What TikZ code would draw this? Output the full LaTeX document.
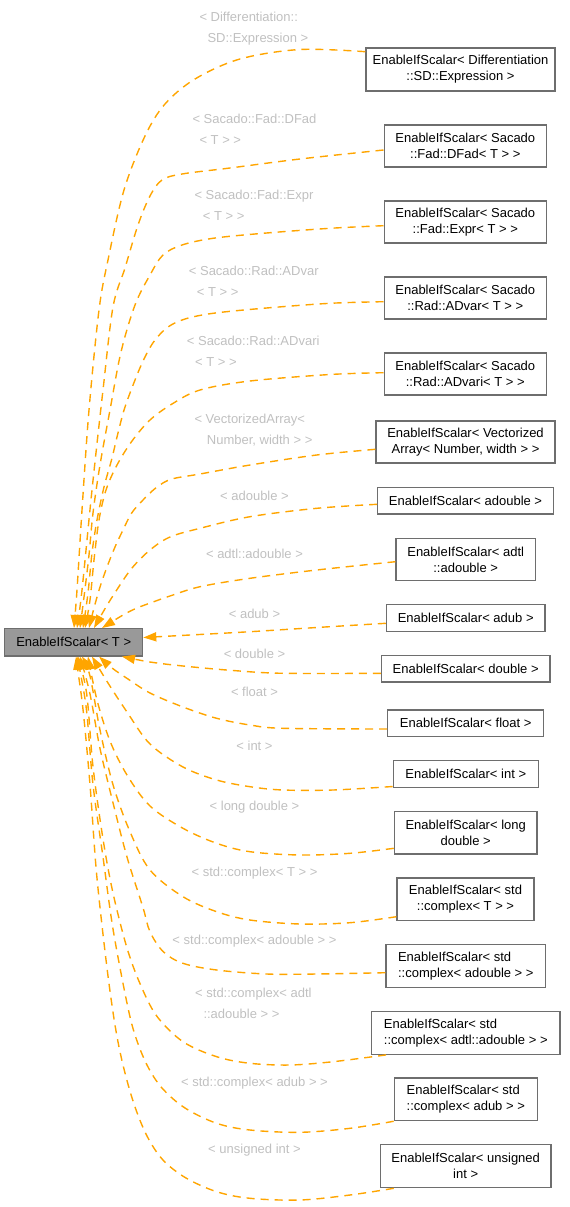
\documentclass[tikz,border=0pt]{standalone}
\usepackage{fontspec}
\setmainfont{Liberation Sans}
\usetikzlibrary{arrows.meta}
\definecolor{edgeorange}{HTML}{FFA500}
\definecolor{lblgray}{HTML}{C0C0C0}
\definecolor{boxborder}{HTML}{6E6E6E}
\definecolor{mainfill}{HTML}{999999}
\newcommand\boxfnt{\fontsize{13}{16}\selectfont}
\newcommand\lblfnt{\fontsize{13}{21}\selectfont}
\begin{document}
\begin{tikzpicture}[x=1pt,y=-1pt,
  box/.style={draw=boxborder, fill=white, line width=1.2pt, inner xsep=3pt, inner ysep=0pt,
    font=\boxfnt, align=center, text=black},
  lbl/.style={text=lblgray, font=\lblfnt, inner sep=0pt, align=left},
  edge/.style={draw=edgeorange, line width=1.4pt, dash pattern=on 8pt off 6pt,
    -{Triangle[length=13pt,width=9pt]}},
  sm/.style={smooth, tension=0.55}]
\useasboundingbox (0,0) rectangle (570,1207);

% main node
\node[box, fill=mainfill, minimum width=138pt, minimum height=27.3pt] (main) at (73.7,642.3) {EnableIfScalar< T >};

% derived boxes
\node[box, minimum width=189pt, minimum height=43pt] (d1) at (460.5,69.5) {EnableIfScalar< Differentiation\\::SD::Expression >};
\node[box, minimum width=162.4pt, minimum height=42pt] (d2) at (465.3,146) {EnableIfScalar< Sacado\\::Fad::DFad< T > >};
\node[box, minimum width=162.4pt, minimum height=42pt] (d3) at (465.3,222) {EnableIfScalar< Sacado\\::Fad::Expr< T > >};
\node[box, minimum width=162.4pt, minimum height=42pt] (d4) at (465.3,298) {EnableIfScalar< Sacado\\::Rad::ADvar< T > >};
\node[box, minimum width=162.4pt, minimum height=42pt] (d5) at (465.3,374) {EnableIfScalar< Sacado\\::Rad::ADvari< T > >};
\node[box, minimum width=179pt, minimum height=42pt] (d6) at (465.5,442) {EnableIfScalar< Vectorized\\Array< Number, width > >};
\node[box, minimum width=175.6pt, minimum height=26.3pt] (d7) at (465.5,500.9) {EnableIfScalar< adouble >};
\node[box, minimum width=139.3pt, minimum height=42pt] (d8) at (465.7,559.7) {EnableIfScalar< adtl\\::adouble >};
\node[box, minimum width=158.7pt, minimum height=26.6pt] (d9) at (465.7,618) {EnableIfScalar< adub >};
\node[box, minimum width=168.7pt, minimum height=26.3pt] (d10) at (465.7,668.8) {EnableIfScalar< double >};
\node[box, minimum width=156pt, minimum height=26.7pt] (d11) at (465.7,723.3) {EnableIfScalar< float >};
\node[box, minimum width=145pt, minimum height=26.6pt] (d12) at (465.8,774) {EnableIfScalar< int >};
\node[box, minimum width=142.7pt, minimum height=42.3pt] (d13) at (465.7,832.8) {EnableIfScalar< long\\double >};
\node[box, minimum width=137pt, minimum height=42.3pt] (d14) at (465.5,899.2) {EnableIfScalar< std\\::complex< T > >};
\node[box, align=left, minimum width=159.7pt, minimum height=42.6pt] (d15) at (465.8,966) {EnableIfScalar< std\\::complex< adouble > >};
\node[box, align=left, minimum width=188.3pt, minimum height=43pt] (d16) at (465.8,1032.8) {EnableIfScalar< std\\::complex< adtl::adouble > >};
\node[box, align=left, minimum width=143pt, minimum height=42.7pt] (d17) at (465.8,1099.3) {EnableIfScalar< std\\::complex< adub > >};
\node[box, minimum width=170.7pt, minimum height=43pt] (d18) at (465.7,1166.2) {EnableIfScalar< unsigned\\int >};

% labels
\node[lbl, anchor=west] (l1) at (199.3,28.2) {< Differentiation::\\\hspace*{8pt}SD::Expression >};
\node[lbl, anchor=west] (l2) at (192.3,129.5) {< Sacado::Fad::DFad\\\hspace*{7pt}< T > >};
\node[lbl, anchor=west] (l3) at (194.3,205.5) {< Sacado::Fad::Expr\\\hspace*{8.4pt}< T > >};
\node[lbl, anchor=west] (l4) at (188.7,281.2) {< Sacado::Rad::ADvar\\\hspace*{8pt}< T > >};
\node[lbl, anchor=west] (l5) at (186.7,351.4) {< Sacado::Rad::ADvari\\\hspace*{8.3pt}< T > >};
\node[lbl, anchor=west] (l6) at (194.3,430.5) {< VectorizedArray<\\\hspace*{12.4pt}Number, width > >};
\node[lbl] (l7) at (254.5,495.7) {< adouble >};
\node[lbl] (l8) at (254.5,553.7) {< adtl::adouble >};
\node[lbl] (l9) at (254.5,614.3) {< adub >};
\node[lbl] (l10) at (254.5,654.3) {< double >};
\node[lbl] (l11) at (254.5,691.7) {< float >};
\node[lbl] (l12) at (254.5,746) {< int >};
\node[lbl] (l13) at (254.5,807.3) {< long double >};
\node[lbl] (l14) at (254.5,872.7) {< std::complex< T > >};
\node[lbl] (l15) at (254.5,941) {< std::complex< adouble > >};
\node[lbl, anchor=west] (l16) at (195,1003.8) {< std::complex< adtl\\\hspace*{8.3pt}::adouble > >};
\node[lbl] (l17) at (254.5,1082.7) {< std::complex< adub > >};
\node[lbl] (l18) at (254.5,1150.3) {< unsigned int >};

% edges (derived -> base)
\draw[edge] plot[sm] coordinates {([yshift=17.8pt]d1.west) (300,49.5) (240,59) (195,79) (165,104) (145,136) (124,190) (108,260) (99,310) (89,410) (82,510) (77,590) ([xshift=0.3pt]main.north)};
\draw[edge] plot[sm] coordinates {([yshift=-4pt]d2.west) (300,159) (230,168) (182,174) (162,180) (150,196) (138,225) (125,268) (113,307) (103,390) (92,490) (82,590) ([xshift=3.3pt]main.north)};
\draw[edge] plot[sm] coordinates {([yshift=-3.7pt]d3.west) (330,228.3) (263,233.3) (213,238.3) (182,245) (163,255) (150,275) (135,305) (121,352) (110,410) (100,465) (93,513) (89,555) (84.5,593) ([xshift=6.3pt]main.north)};
\draw[edge] plot[sm] coordinates {([yshift=-3.7pt]d4.west) (330,303.3) (263,308.3) (213,313.3) (185,319) (168,327) (155,340) (146,355) (137,375) (125,407) (118,433) (111.5,460) (104,487) (97,520) (92,553) (88,593) ([xshift=9.3pt]main.north)};
\draw[edge] plot[sm] coordinates {([yshift=1.3pt]d5.west) (330,374.5) (250,381) (200,390) (172,404) (150,420) (132,441) (117,465) (106,490) (99,520) (94,560) (90,600) ([xshift=11.3pt]main.north)};
\draw[edge] plot[sm] coordinates {([yshift=-7.3pt]d6.west) (316.7,455) (250,465) (200,474) (172,479) (157,487) (143,500) (131.7,513) (123,530) (115,547) (107,567) (100,587) (94,608) ([xshift=15.3pt]main.north)};
\draw[edge] plot[sm] coordinates {([yshift=-3.4pt]d7.west) (316.7,508.3) (250,516.7) (200,528.3) (170,537) (150,550) (132,568) (118,588) (106,607) ([xshift=20.3pt]main.north)};
\draw[edge] plot[sm] coordinates {([yshift=-2pt]d8.west) (316.7,570) (250,578.3) (200,586.7) (170,596) (153,602) (137,608) (123,615) ([xshift=28.3pt]main.north)};
\draw[edge] plot[sm] coordinates {([yshift=-5.3pt]d9.west) (316.7,627.5) (250,631.7) (190,635) ([yshift=4.8pt]main.east)};
\draw[edge] plot[sm] coordinates {([yshift=-4.5pt]d10.west) (283,673.3) (233,670.5) (183,666) (150,662) ([xshift=48.3pt]main.south)};
\draw[edge] plot[sm] coordinates {([yshift=-5.7pt]d11.west) (283,728.3) (250,725) (216.7,718.3) (183,707) (150,693) (128,679) (112,668) ([xshift=25.3pt]main.south)};
\draw[edge] plot[sm] coordinates {([yshift=-12.5pt]d12.west) (333,790) (283,790) (250,786.7) (216.7,780) (183,767) (150,744) (127,712) (108,683) ([xshift=18.3pt]main.south)};
\draw[edge] plot[sm] coordinates {([yshift=-15.5pt]d13.west) (350,853.3) (300,855) (250,851.7) (216.7,843.3) (183,828.3) (150,806) (127,775) (110,741) (97,700) ([xshift=14.3pt]main.south)};
\draw[edge] plot[sm] coordinates {([yshift=-17.5pt]d14.west) (350,922.7) (300,924) (250,920) (216.7,911.7) (183,896.7) (150,870) (130,831.7) (113,784.7) (100,730) (90,676) ([xshift=8.3pt]main.south)};
\draw[edge] plot[sm] coordinates {([yshift=-6.7pt]d15.west) (316.7,974) (266.7,974) (216.7,970) (183,963.3) (163.3,951.7) (150,931.7) (143,907.6) (127,857) (113,802.7) (100,748.5) (90,694) ([xshift=6.3pt]main.south)};
\draw[edge] plot[sm] coordinates {([xshift=15pt]d16.south west) (333,1061.7) (290,1065) (250,1063.3) (216.7,1056.7) (183,1041.7) (156.7,1016) (140,983.6) (126.7,947) (113,893) (103,839) (93,766.6) (86.7,694) ([xshift=4.3pt]main.south)};
\draw[edge] plot[sm] coordinates {(d17.south west) (350,1128.3) (300,1132.3) (250,1130) (216.7,1123.3) (185,1108) (162,1088) (147,1065) (135,1035) (126.7,1001.7) (113,929) (103,857) (93,784.7) (86.7,712) (81,676) ([xshift=3.3pt]main.south)};
\draw[edge] plot[sm] coordinates {([xshift=14pt]d18.south west) (350,1195) (300,1200) (250,1198.3) (216.7,1191.7) (186,1178) (163,1160) (147,1136) (134,1104) (123,1065) (115,1025) (106.7,965.5) (96.7,875) (90,784.7) (83.3,712) (78.5,675) ([xshift=2.3pt]main.south)};
\end{tikzpicture}
\end{document}
